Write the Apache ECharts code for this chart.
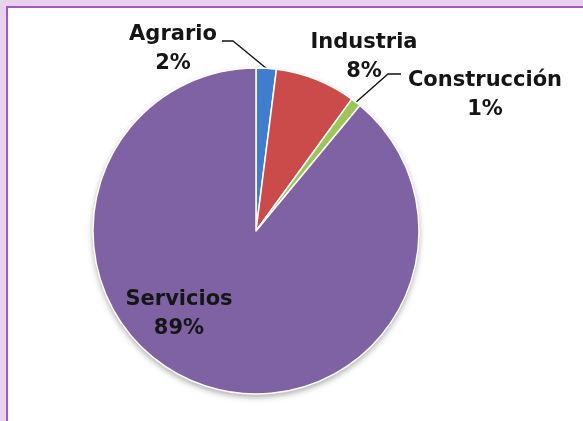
<!DOCTYPE html>
<html>
<head>
<meta charset="utf-8">
<title>Sectores</title>
<script src="https://cdn.jsdelivr.net/npm/echarts@6/dist/echarts.min.js"></script>
<style>
  html, body { margin: 0; padding: 0; background: #e8d2ec; }
  #chart { width: 583px; height: 421px; }
</style>
</head>
<body>
<div id="chart"></div>
<script>
// Employment share by sector (%)
const sectors = ['Agrario', 'Industria', 'Construcción', 'Servicios'];
const shares = [2, 8, 1, 89];
const sectorColors = ['#3f7ecf', '#cb4a4a', '#9dc55a', '#7e62a3'];

// Where each label block is centred, and the elbow of its leader line
const labelCenters = [[173, 49], [364, 57], [485, 95], [179, 314]];
const leaderElbows = [[[233, 41], [222, 41]], null, [[388, 74], [401, 74]], null];

const PIE_CENTER = [256, 231];
const PIE_RADIUS = 163;
const FONT = '"DejaVu Sans", sans-serif';

const chart = echarts.init(document.getElementById('chart'), null, { renderer: 'canvas' });

const pieData = sectors.map((name, i) => ({
  name,
  value: shares[i],
  itemStyle: { color: sectorColors[i] },
  labelLine: { show: leaderElbows[i] !== null }
}));

chart.setOption({
  backgroundColor: '#e8d2ec',
  animation: false,
  graphic: [{
    type: 'rect',
    z: -10,
    shape: { x: 7, y: 7, width: 700, height: 600 },
    style: { fill: '#ffffff', stroke: '#a458bd', lineWidth: 2 }
  }],
  series: [
    {
      // soft drop shadow under the whole disc
      type: 'pie',
      silent: true,
      z: 1,
      center: PIE_CENTER,
      radius: PIE_RADIUS,
      label: { show: false },
      labelLine: { show: false },
      data: [{
        value: 1,
        itemStyle: {
          color: '#ffffff',
          shadowBlur: 6,
          shadowOffsetY: 3,
          shadowColor: 'rgba(0,0,0,0.35)'
        }
      }]
    },
    {
      type: 'pie',
      z: 2,
      center: PIE_CENTER,
      radius: PIE_RADIUS,
      startAngle: 90,
      clockwise: true,
      avoidLabelOverlap: false,
      itemStyle: { borderColor: '#ffffff', borderWidth: 1.5 },
      label: {
        show: true,
        position: 'outside',
        formatter: '{b}\n{c}%',
        fontFamily: FONT,
        fontWeight: 'bold',
        fontSize: 21,
        lineHeight: 29,
        color: '#151515',
        align: 'center'
      },
      labelLine: {
        show: true,
        length: 10,
        length2: 10,
        lineStyle: { color: '#111111', width: 1.3 }
      },
      labelLayout: function (params) {
        const i = params.dataIndex;
        const c = labelCenters[i];
        const out = { x: c[0], y: c[1], align: 'center', verticalAlign: 'middle' };
        const elbow = leaderElbows[i];
        if (elbow && params.labelLinePoints) {
          out.labelLinePoints = [params.labelLinePoints[0], elbow[0], elbow[1]];
        }
        return out;
      },
      data: pieData
    }
  ]
});
</script>
</body>
</html>
